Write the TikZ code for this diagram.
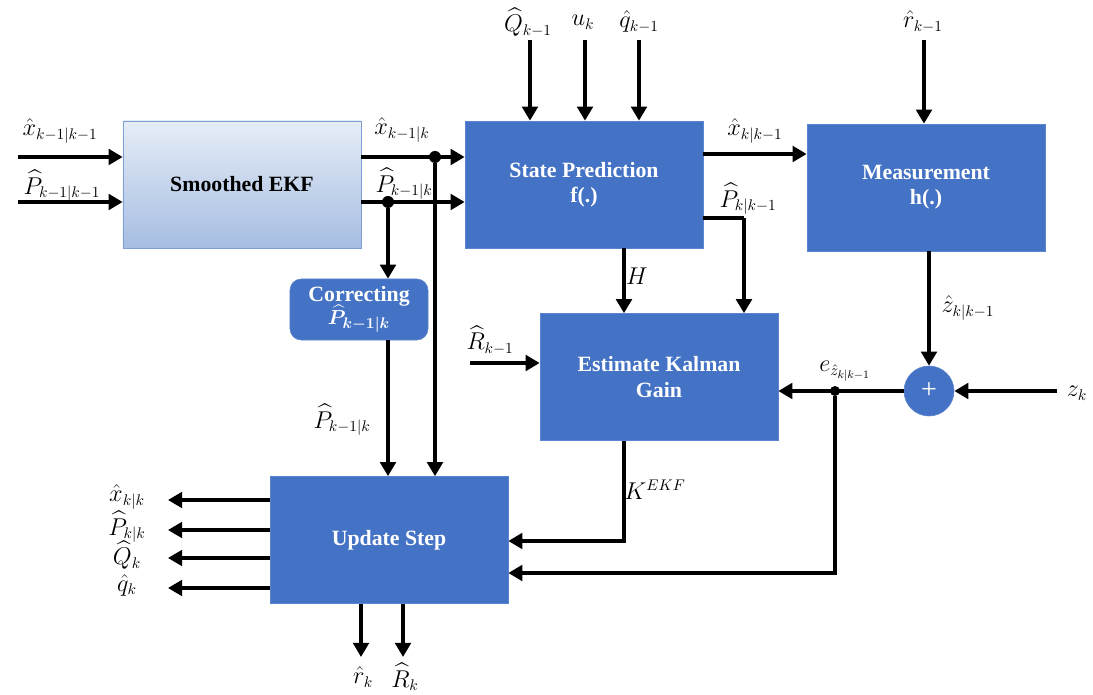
\documentclass[tikz,border=0pt]{standalone}
\usepackage{amsmath}
\usepackage{fontspec}
\setmainfont{Liberation Serif}
\usetikzlibrary{arrows.meta, positioning, shadings}

\definecolor{boxblue}{HTML}{4472C4}
\definecolor{boxedge}{HTML}{5B85CF}
\definecolor{ekftop}{HTML}{E6EDF7}
\definecolor{ekfbot}{HTML}{A6BDE2}
\definecolor{ekfedge}{HTML}{7F9FD2}

\begin{document}
\begin{tikzpicture}[x=0.025cm, y=-0.025cm,
            blk/.style={draw=boxedge, fill=boxblue, minimum width=5.95cm, minimum height=3.175cm,
                        text centered, text=white, font=\fontsize{15.5}{18}\selectfont\bfseries, align=center},
            smoothblk/.style={blk, draw=ekfedge, top color=ekftop, bottom color=ekfbot, text=black},
            corrblk/.style={blk, rounded corners=8pt, minimum width=3.45cm, minimum height=1.525cm},
            sumnode/.style={circle, fill=boxblue, draw=boxedge, minimum size=1.25cm, inner sep=0pt,
                            text=white, font=\fontsize{20}{22}\selectfont},
            dot/.style={circle, fill=black, minimum size=0.3cm, inner sep=0pt},
            arr/.style={-{Triangle[length=10pt, width=11pt]}, line width=3.5pt},
            wire/.style={line width=3.5pt},
            lbl/.style={font=\fontsize{16}{19}\selectfont, inner sep=0pt}]

    \useasboundingbox (0,0) rectangle (1093,695);

    % blocks
    \node[smoothblk] (ekf)  at (242,184.5) {Smoothed EKF};
    \node[blk]       (sp)   at (584,184.5) {State Prediction\\f(.)};
    \node[blk]       (meas) at (926,187.5) {Measurement\\h(.)};
    \node[corrblk]   (corr) at (359,309.5) {Correcting\\[-2pt]{\boldmath$\widehat{P}_{k-1|k}$}};
    \node[blk]       (kg)   at (659,377)   {Estimate Kalman\\Gain};
    \node[blk]       (upd)  at (389,540)   {Update Step};
    \node[sumnode]   (sum)  at (929,391)   {+};

    % helper coordinates
    \coordinate (xin) at (18,157);
    \coordinate (pin) at (18,202);
    \coordinate (qin) at (530,40);
    \coordinate (uin) at (585,40);
    \coordinate (qsin) at (639,40);
    \coordinate (rin) at (924,40);
    \coordinate (zin) at (1057,391);
    \coordinate (rrin) at (470,363);
    \coordinate (pk) at (744,218);
    \coordinate (hk) at (624,280);
    \coordinate (kl) at (624,541);
    \coordinate (el) at (835,573);
    \coordinate (outl) at (168,0);
    \coordinate (rout) at (361,657);
    \coordinate (Rout) at (403,657);

    \node[dot] (dx) at (435,157) {};
    \node[dot] (dp) at (388,202) {};
    \node[dot, minimum size=0.25cm] (de) at (835,391) {};

    % inputs of the smoother
    \draw[arr] (xin) -- (xin -| ekf.west);
    \draw[arr] (pin) -- (pin -| ekf.west);
    \node[lbl] at (60,131) {$\hat{x}_{k-1|k-1}$};
    \node[lbl] at (62,186) {$\widehat{P}_{k-1|k-1}$};

    % smoother to prediction
    \draw[arr] (xin -| ekf.east) -- (xin -| sp.west);
    \draw[arr] (pin -| ekf.east) -- (pin -| sp.west);
    \node[lbl] at (402,130) {$\hat{x}_{k-1|k}$};
    \node[lbl] at (404,184) {$\widehat{P}_{k-1|k}$};

    \draw[arr] (dx) -- (dx |- upd.north);
    \draw[arr] (dp) -- (dp |- corr.north);
    \draw[arr] (dp |- corr.south) -- (dp |- upd.north);
    \node[lbl] at (342,420) {$\widehat{P}_{k-1|k}$};

    % inputs from above
    \draw[arr] (qin) -- (qin |- sp.north);
    \draw[arr] (uin) -- (uin |- sp.north);
    \draw[arr] (qsin) -- (qsin |- sp.north);
    \node[lbl] at (528,22) {$\widehat{Q}_{k-1}$};
    \node[lbl] at (583,22) {$u_k$};
    \node[lbl] at (639,22) {$\hat{q}_{k-1}$};
    \draw[arr] (rin) -- (rin |- meas.north);
    \node[lbl] at (923,22) {$\hat{r}_{k-1}$};

    % prediction outputs
    \draw[arr] (sp.east |- 0,154) -- (meas.west |- 0,154);
    \node[lbl] at (755,131) {$\hat{x}_{k|k-1}$};
    \draw[wire] (pk -| sp.east) -- (pk);
    \draw[arr] (pk) -- (pk |- kg.north);
    \node[lbl] at (748,199) {$\widehat{P}_{k|k-1}$};
    \draw[arr] (hk |- sp.south) -- (hk |- kg.north);
    \node[lbl] at (637,276) {$H$};

    % measurement and innovation
    \draw[arr] (meas.south -| sum) -- (sum.north);
    \node[lbl] at (968,308) {$\hat{z}_{k|k-1}$};
    \draw[arr] (zin) -- (sum.east);
    \node[lbl] at (1077,393) {$z_k$};
    \draw[arr] (sum.west) -- (sum.west -| kg.east);
    \node[lbl] at (845,371) {$e_{\hat{z}_{k|k-1}}$};
    \draw[arr] (de) -- (el) -- (el -| upd.east);
    \draw[arr] (rrin) -- (rrin -| kg.west);
    \node[lbl] at (490,340) {$\widehat{R}_{k-1}$};

    % gain to update
    \draw[arr] (hk |- kg.south) -- (kl) -- (kl -| upd.east);
    \node[lbl] at (655,490) {$K^{EKF}$};

    % outputs of the update
    \foreach \yy/\txt in {500/{\hat{x}_{k|k}}, 530/{\widehat{P}_{k|k}}, 558/{\widehat{Q}_k}, 588/{\hat{q}_k}}{
        \draw[arr] (upd.west |- 0,\yy) -- (outl |- 0,\yy);
        \node[lbl] at (127,\yy-3) {$\txt$};
    }
    \draw[arr] (rout |- upd.south) -- (rout);
    \draw[arr] (Rout |- upd.south) -- (Rout);
    \node[lbl] at (363,677) {$\hat{r}_k$};
    \node[lbl] at (405,677) {$\widehat{R}_k$};
\end{tikzpicture}
\end{document}
